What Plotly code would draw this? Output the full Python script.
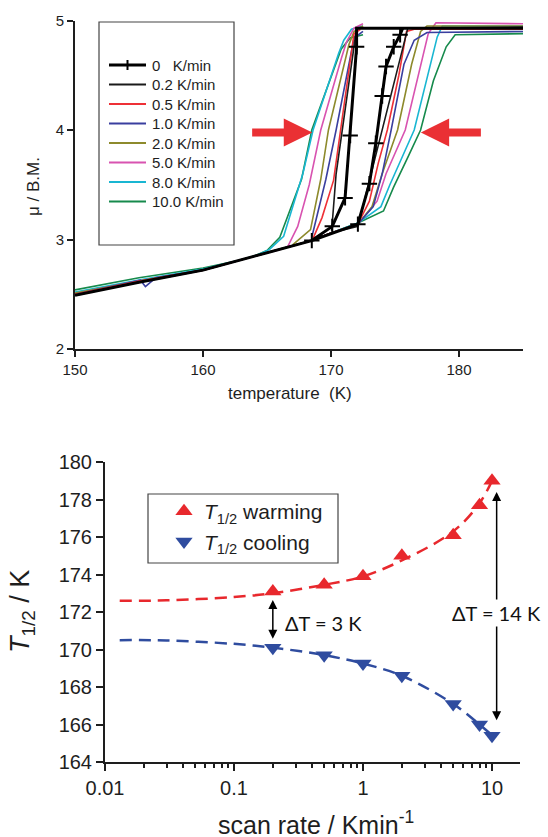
import plotly.graph_objects as go

# ---------------- top panel data (temperature K, mu B.M.) ----------------
# each path: warming polyline (baseline -> up -> plateau), None, cooling polyline (plateau -> down)
R0_T = [172.0, 171.5, 171.1, 170.1, 168.5, 172.1, 173.0, 173.5, 174.0, 174.3, 174.9, 175.4]
R0_MU = [4.76, 3.95, 3.38, 3.12, 2.99, 3.14, 3.51, 3.88, 4.31, 4.58, 4.76, 4.87]
R0_REST_T = [150, 155, 160, 162.5, 165, 167, 168.5, None, 172.0, 172.0, 185, None, 175.4, 175.6]
R0_REST_MU = [2.49, 2.61, 2.72, 2.80, 2.88, 2.94, 2.99, None, 4.76, 4.93, 4.93, None, 4.87, 4.93]

R02_T = [150, 155, 160, 162.5, 165, 167, 168.5, 170.0, 172.1, 176.0, 185, None, 172.0, 170.4, 170.05]
R02_MU = [2.49, 2.61, 2.72, 2.80, 2.88, 2.94, 2.99, 3.06, 3.12, 4.93, 4.94, None, 4.93, 3.6, 3.08]

R05_T = [150, 155, 160, 162.5, 165, 167, 168.5, 170.0, 172.1, 173.0, 173.7, 174.4, 175.3, 175.9, 176.5, 185,
         None, 172.3, 171.8, 170.75, 170.2, 169.3, 168.6]
R05_MU = [2.50, 2.62, 2.72, 2.80, 2.88, 2.94, 2.99, 3.06, 3.14, 3.35, 3.70, 4.00, 4.50, 4.90, 4.92, 4.92,
          None, 4.92, 4.88, 4.00, 3.54, 3.20, 3.01]

R1_T = [150, 155.1, 155.5, 156.3, 160, 162.5, 165, 167, 168.5, 170.0, 172.1, 173.3, 174.0, 174.7, 175.7, 176.5, 177.5, 185,
        None, 172.5, 171.8, 170.4, 169.6, 168.5]
R1_MU = [2.50, 2.63, 2.57, 2.65, 2.72, 2.80, 2.88, 2.94, 2.99, 3.06, 3.14, 3.30, 3.60, 4.00, 4.60, 4.82, 4.89, 4.90,
         None, 4.90, 4.84, 4.00, 3.55, 3.02]

R2_T = [150, 155, 160, 162.5, 165, 167, 168.5, 170.0, 172.1, 173.2, 174.0, 175.2, 176.3, 177.0, 177.5, 185,
        None, 172.5, 171.8, 171.4, 169.8, 169.2, 168.4, 167.0]
R2_MU = [2.51, 2.62, 2.72, 2.80, 2.88, 2.94, 2.99, 3.06, 3.14, 3.30, 3.60, 4.00, 4.60, 4.90, 4.95, 4.95,
         None, 4.95, 4.90, 4.78, 4.00, 3.55, 3.09, 2.95]

R5_T = [150, 155, 160, 162.5, 165, 167, 168.5, 170.0, 172.1, 173.6, 174.3, 175.8, 177.0, 177.6, 178.2, 185,
        None, 172.5, 171.8, 171.2, 170.8, 169.2, 168.3, 167.4, 166.6, 165.5]
R5_MU = [2.49, 2.61, 2.72, 2.80, 2.88, 2.94, 2.99, 3.06, 3.14, 3.35, 3.60, 4.00, 4.60, 4.88, 4.98, 4.97,
         None, 4.97, 4.93, 4.80, 4.65, 4.00, 3.50, 3.12, 2.93, 2.89]

R8_T = [150, 155, 160, 162.5, 165, 167, 168.5, 170.0, 172.1, 173.9, 174.6, 176.5, 177.8, 178.3, 178.7, 185,
        None, 172.5, 171.6, 171.0, 170.6, 168.6, 167.8, 166.3, 165.2, 164.3]
R8_MU = [2.52, 2.63, 2.73, 2.80, 2.88, 2.94, 2.99, 3.06, 3.15, 3.30, 3.50, 4.00, 4.60, 4.85, 4.95, 4.95,
         None, 4.95, 4.92, 4.82, 4.70, 4.00, 3.60, 3.03, 2.91, 2.86]

R10_T = [150, 155, 160, 162.5, 164, 165, 167, 168.5, 170.0, 172.1, 174.1, 174.9, 176.0, 177.0, 178.0, 179.0, 179.7, 185,
         None, 172.5, 171.5, 170.8, 170.2, 168.5, 167.7, 166.0, 165.0, 164.0]
R10_MU = [2.54, 2.65, 2.74, 2.80, 2.85, 2.88, 2.94, 2.99, 3.06, 3.15, 3.26, 3.48, 3.75, 4.00, 4.45, 4.76, 4.87, 4.88,
          None, 4.87, 4.84, 4.74, 4.55, 4.00, 3.55, 3.02, 2.90, 2.85]

TOP_NAMES = ["0\u00a0\u00a0\u00a0K/min", "0.2 K/min", "0.5 K/min", "1.0 K/min", "2.0 K/min",
             "5.0 K/min", "8.0 K/min", "10.0 K/min"]
TOP_COLORS = ["#000000", "#1a1a1a", "#ee3036", "#3a3f9f", "#8d8a2c", "#d853b0", "#19b6d2", "#168a4c"]

# ---------------- bottom panel data ----------------
RATES = [0.2, 0.5, 1, 2, 5, 8, 10]
T_WARM = [173.1, 173.45, 173.9, 175.0, 176.1, 177.7, 179.0]
T_COOL = [170.1, 169.7, 169.25, 168.6, 167.1, 166.0, 165.4]
FIT_RATE = [0.013, 0.03, 0.1, 0.2, 0.5, 1, 2, 5, 8, 10.5]
FIT_WARM = [172.6, 172.62, 172.8, 173.0, 173.45, 173.9, 174.75, 176.3, 177.8, 179.3]
FIT_COOL = [170.5, 170.48, 170.3, 170.1, 169.7, 169.25, 168.6, 167.1, 166.0, 165.3]

W, H = 548, 837
FONT = "Liberation Sans"
INK = "#1e1e1e"
RED = "#e8282d"
BLUE = "#2f4c9f"


def px(x):
    return x / W


def py(y):
    return 1 - y / H


fig = go.Figure()

paths = [(R10_T, R10_MU), (R8_T, R8_MU), (R5_T, R5_MU), (R2_T, R2_MU),
         (R1_T, R1_MU), (R05_T, R05_MU), (R02_T, R02_MU)]
for i, (tt, mm) in enumerate(paths):
    k = 7 - i
    fig.add_trace(go.Scatter(x=tt, y=mm, mode="lines", name=TOP_NAMES[k], showlegend=False,
                             line=dict(color=TOP_COLORS[k], width=1.6), xaxis="x", yaxis="y"))

fig.add_trace(go.Scatter(x=R0_REST_T, y=R0_REST_MU, mode="lines", showlegend=False,
                         line=dict(color="#000000", width=3), xaxis="x", yaxis="y"))
fig.add_trace(go.Scatter(x=R0_T, y=R0_MU, mode="lines+markers", name=TOP_NAMES[0], showlegend=False,
                         line=dict(color="#000000", width=3),
                         marker=dict(symbol="cross-thin", size=11, line=dict(width=2, color="#000000")),
                         xaxis="x", yaxis="y"))

# bottom panel
fig.add_trace(go.Scatter(x=FIT_RATE, y=FIT_WARM, mode="lines", line_shape="spline", showlegend=False,
                         line=dict(color=RED, width=2.5, dash="12px,7px"), xaxis="x2", yaxis="y2"))
fig.add_trace(go.Scatter(x=FIT_RATE, y=FIT_COOL, mode="lines", line_shape="spline", showlegend=False,
                         line=dict(color=BLUE, width=2.5, dash="12px,7px"), xaxis="x2", yaxis="y2"))
fig.add_trace(go.Scatter(x=RATES, y=T_WARM, mode="markers", name="<i>T</i><sub>1/2</sub> warming",
                         marker=dict(symbol="triangle-up", size=15, color=RED),
                         xaxis="x2", yaxis="y2", legend="legend2"))
fig.add_trace(go.Scatter(x=RATES, y=T_COOL, mode="markers", name="<i>T</i><sub>1/2</sub> cooling",
                         marker=dict(symbol="triangle-down", size=15, color=BLUE),
                         xaxis="x2", yaxis="y2", legend="legend2"))

axis_common = dict(showline=True, linewidth=2, linecolor=INK, ticks="outside", tickwidth=2,
                   tickcolor=INK, showgrid=False, zeroline=False, mirror=False, automargin=False)

minor_vals = [m * d for d in (0.01, 0.1, 1) for m in range(2, 10)]

fig.update_layout(
    template="none",
    width=W, height=H, autosize=False,
    margin=dict(l=0, r=0, t=0, b=0, pad=0),
    paper_bgcolor="white", plot_bgcolor="white",
    font=dict(family=FONT, color=INK, size=15),
    xaxis=dict(domain=[px(75), px(523)], range=[150, 185], anchor="y",
               tickvals=[150, 160, 170, 180], ticklen=6, tickfont=dict(size=15, family=FONT), **axis_common),
    yaxis=dict(domain=[py(349), py(20.5)], range=[2, 5], anchor="x",
               tickvals=[2, 3, 4, 5], ticklen=6, tickfont=dict(size=15, family=FONT), **axis_common),
    xaxis2=dict(domain=[px(105), px(520)], type="log", range=[-2, 1.217], anchor="y2",
                tickvals=[0.01, 0.1, 1, 10], ticktext=["0.01", "0.1", "1", "10"], ticklen=7,
                tickfont=dict(size=20, family=FONT),
                minor=dict(tickvals=minor_vals, ticks="outside", ticklen=4, tickwidth=1.5, tickcolor=INK),
                **axis_common),
    yaxis2=dict(domain=[py(762), py(462)], range=[164, 180], anchor="x2",
                tickvals=list(range(164, 181, 2)), ticklen=7, tickfont=dict(size=20, family=FONT), **axis_common),
    legend2=dict(x=px(164), xanchor="left", y=py(491), yanchor="top", bgcolor="rgba(0,0,0,0)",
                 borderwidth=0, font=dict(size=21, family=FONT, color=INK), traceorder="normal"),
    showlegend=True,
)

shapes = [
    dict(type="rect", xref="paper", yref="paper", x0=px(99), x1=px(234), y0=py(245), y1=py(22),
         line=dict(color="#444", width=1.2), fillcolor="rgba(0,0,0,0)"),
    dict(type="rect", xref="paper", yref="paper", x0=px(148), x1=px(338), y0=py(563), y1=py(494),
         line=dict(color="#444", width=1.2), fillcolor="rgba(0,0,0,0)"),
    # red block arrows in top panel
    dict(type="path", xref="x", yref="y",
         path="M 163.84,3.940 L 166.31,3.940 L 166.31,3.849 L 168.54,3.977 L 166.31,4.105 L 166.31,4.014 L 163.84,4.014 Z",
         fillcolor="#ea3034", line=dict(width=0)),
    dict(type="path", xref="x", yref="y",
         path="M 181.71,3.940 L 179.23,3.940 L 179.23,3.849 L 177.02,3.977 L 179.23,4.105 L 179.23,4.014 L 181.71,4.014 Z",
         fillcolor="#ea3034", line=dict(width=0)),
]

ann = [
    dict(text="temperature\u00a0\u00a0(K)", xref="paper", yref="paper", x=px(290), y=py(393),
         showarrow=False, font=dict(size=17, family=FONT), xanchor="center", yanchor="middle"),
    dict(text="μ / B.M.", xref="paper", yref="paper", x=px(33), y=py(187), textangle=-90,
         showarrow=False, font=dict(size=17, family=FONT), xanchor="center", yanchor="middle"),
    dict(text="scan rate / Kmin<sup>-1</sup>", xref="paper", yref="paper", x=px(316), y=py(823),
         showarrow=False, font=dict(size=25, family=FONT), xanchor="center", yanchor="middle"),
    dict(text="<i>T</i><sub>1/2</sub> / K", xref="paper", yref="paper", x=px(22), y=py(612), textangle=-90,
         showarrow=False, font=dict(size=27, family=FONT), xanchor="center", yanchor="middle"),
    # double arrows
    dict(text="", xref="x2", yref="y2", axref="x2", ayref="y2", x=-0.699, y=172.64, ax=-0.699, ay=170.5,
         showarrow=True, arrowhead=2, arrowside="end+start", arrowsize=1.2, arrowwidth=1.5, arrowcolor="#000"),
    dict(text="", xref="x2", yref="y2", axref="x2", ayref="y2", x=1.036, y=178.4, ax=1.036, ay=166.15,
         showarrow=True, arrowhead=2, arrowside="end+start", arrowsize=1.2, arrowwidth=1.5, arrowcolor="#000"),
    dict(text="ΔT = 3 K", xref="x2", yref="y2", x=-0.62, y=171.43, showarrow=False,
         xanchor="left", yanchor="middle", font=dict(size=20, family="Lato", color="#111")),
    dict(text="ΔT = 14 K", xref="x2", yref="y2", x=1.036, y=171.96, showarrow=False,
         xanchor="center", yanchor="middle", bgcolor="white",
         font=dict(size=20, family="Lato", color="#111")),
]

# manual legend for the top panel
for k in range(8):
    yc = 65 + 19.5 * k
    lw = 3 if k == 0 else 1.8
    shapes.append(dict(type="line", xref="paper", yref="paper", x0=px(109), x1=px(146), y0=py(yc), y1=py(yc),
                       line=dict(color=TOP_COLORS[k], width=lw)))
    ann.append(dict(text=TOP_NAMES[k], xref="paper", yref="paper", x=px(150), y=py(yc), showarrow=False,
                    xanchor="left", yanchor="middle", font=dict(size=15, family=FONT, color=INK)))
shapes.append(dict(type="line", xref="paper", yref="paper", x0=px(127.5), x1=px(127.5),
                   y0=py(60), y1=py(70), line=dict(color="#000", width=2)))

fig.update_layout(shapes=shapes, annotations=ann)

fig.write_html("out.html")
